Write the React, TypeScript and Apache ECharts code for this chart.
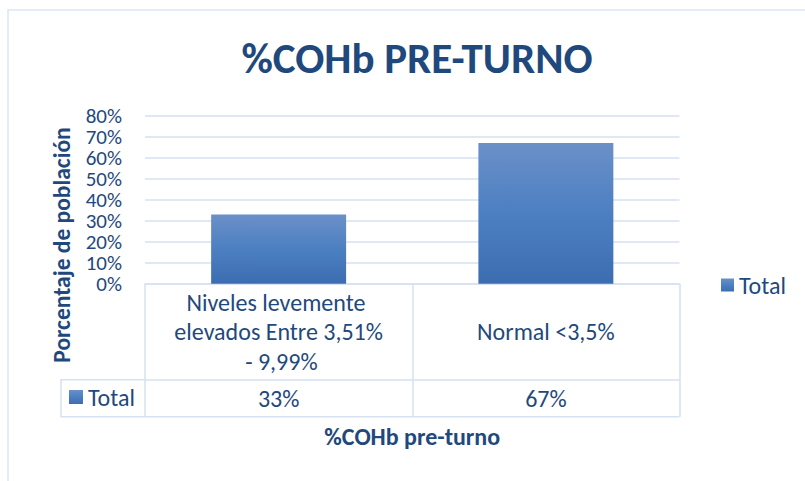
import React, { useEffect, useRef } from "react";
import * as echarts from "echarts";

const categories = ["Niveles levemente elevados Entre 3,51% - 9,99%", "Normal <3,5%"];
const values = [0.33, 0.67];
const seriesName = "Total";
const yTicks = [0, 0.1, 0.2, 0.3, 0.4, 0.5, 0.6, 0.7, 0.8];
const titleText = "%COHb PRE-TURNO";
const xTitle = "%COHb pre-turno";
const yTitle = "Porcentaje de población";

const FONT = "Carlito, Lato, 'Open Sans', sans-serif";
const TEXT = "#1F497D";
const LINE = "#D6E1F2";

const pct = (v: number) => Math.round(v * 100) + "%";

export default function App() {
  const ref = useRef<HTMLDivElement>(null);
  useEffect(() => {
    if (!ref.current) return;
    const chart = echarts.init(ref.current, null, { renderer: "svg" });
    const W = 805;
    const H = 481;
    const gL = 145, gR = 679.5, gT = 115.7, gB = 283.7;
    const row1 = 96, row2 = 37;
    const barColor = new echarts.graphic.LinearGradient(0, 0, 0, 1, [
      { offset: 0, color: "#6B90C8" },
      { offset: 0.5, color: "#4C7FC2" },
      { offset: 1, color: "#3D6DB1" },
    ]);
    chart.setOption({
      animation: false,
      backgroundColor: "#ffffff",
      textStyle: { fontFamily: FONT, color: TEXT },
      title: {
        text: titleText,
        left: 412,
        top: 32,
        textAlign: "center",
        textStyle: { fontFamily: FONT, fontSize: 43, fontWeight: "bold", color: TEXT },
      },
      legend: [
        {
          data: [seriesName],
          left: 716,
          top: 268,
          itemWidth: 13,
          itemHeight: 13,
          itemGap: 4,
          icon: "rect",
          textStyle: { fontFamily: FONT, fontSize: 24, color: TEXT },
        },
        {
          data: [seriesName],
          left: 64,
          top: 380,
          itemWidth: 14,
          itemHeight: 14,
          itemGap: 4,
          icon: "rect",
          textStyle: { fontFamily: FONT, fontSize: 24, color: TEXT },
        },
      ],
      grid: { left: gL, right: W - gR, top: gT, bottom: H - gB, containLabel: false },
      xAxis: [
        {
          type: "category",
          data: categories,
          axisLine: { show: true, lineStyle: { color: LINE, width: 1.5 } },
          axisTick: { show: true, length: row1 + row2, lineStyle: { color: LINE, width: 1.5 } },
          axisLabel: {
            interval: 0,
            margin: row1 / 2,
            verticalAlign: "middle",
            width: 214,
            overflow: "break",
            lineHeight: 29.5,
            fontFamily: FONT,
            fontSize: 24,
            color: TEXT,
          },
        },
        {
          type: "category",
          data: categories,
          position: "bottom",
          offset: row1,
          axisLine: { show: true, lineStyle: { color: LINE, width: 1.5 } },
          axisTick: { show: false },
          axisLabel: {
            interval: 0,
            margin: row2 / 2,
            verticalAlign: "middle",
            fontFamily: FONT,
            fontSize: 24,
            color: TEXT,
            formatter: (_v: string, i: number) => pct(values[i]),
          },
          name: xTitle,
          nameLocation: "middle",
          nameGap: 45,
          nameTextStyle: { fontFamily: FONT, fontSize: 24, fontWeight: "bold", color: TEXT },
        },
      ],
      yAxis: {
        type: "value",
        min: yTicks[0],
        max: yTicks[yTicks.length - 1],
        interval: 0.1,
        axisLine: { show: false },
        axisTick: { show: false },
        splitLine: { lineStyle: { color: LINE, width: 1.5 } },
        axisLabel: {
          margin: 23,
          showMinLabel: true,
          showMaxLabel: true,
          fontFamily: FONT,
          fontSize: 21,
          lineHeight: 21,
          color: TEXT,
          formatter: (v: number) => pct(v),
        },
      },
      series: [
        {
          name: seriesName,
          type: "bar",
          xAxisIndex: 0,
          data: values,
          barWidth: "50.5%",
          itemStyle: { color: barColor },
        },
      ],
      graphic: [
        {
          type: "rect",
          shape: { x: 8, y: 10, width: 900, height: 600 },
          style: { fill: "none", stroke: "#DCE6F4", lineWidth: 1.5 },
          silent: true,
        },
        {
          type: "polyline",
          shape: {
            points: [
              [gL, gB + row1],
              [61, gB + row1],
              [61, gB + row1 + row2],
              [gR, gB + row1 + row2],
            ],
          },
          style: { fill: "none", stroke: LINE, lineWidth: 1.5 },
          silent: true,
        },
        {
          type: "text",
          x: 62,
          y: 245,
          rotation: Math.PI / 2,
          style: {
            text: yTitle,
            x: 0,
            y: 0,
            font: `bold 23.5px ${FONT}`,
            fill: TEXT,
            textAlign: "center",
            textVerticalAlign: "middle",
            align: "center",
            verticalAlign: "middle",
          },
          silent: true,
        },
      ],
    });
    return () => chart.dispose();
  }, []);
  return (
    <div
      ref={ref}
      style={{ position: "fixed", left: 0, top: 0, width: 805, height: 481 }}
    />
  );
}
